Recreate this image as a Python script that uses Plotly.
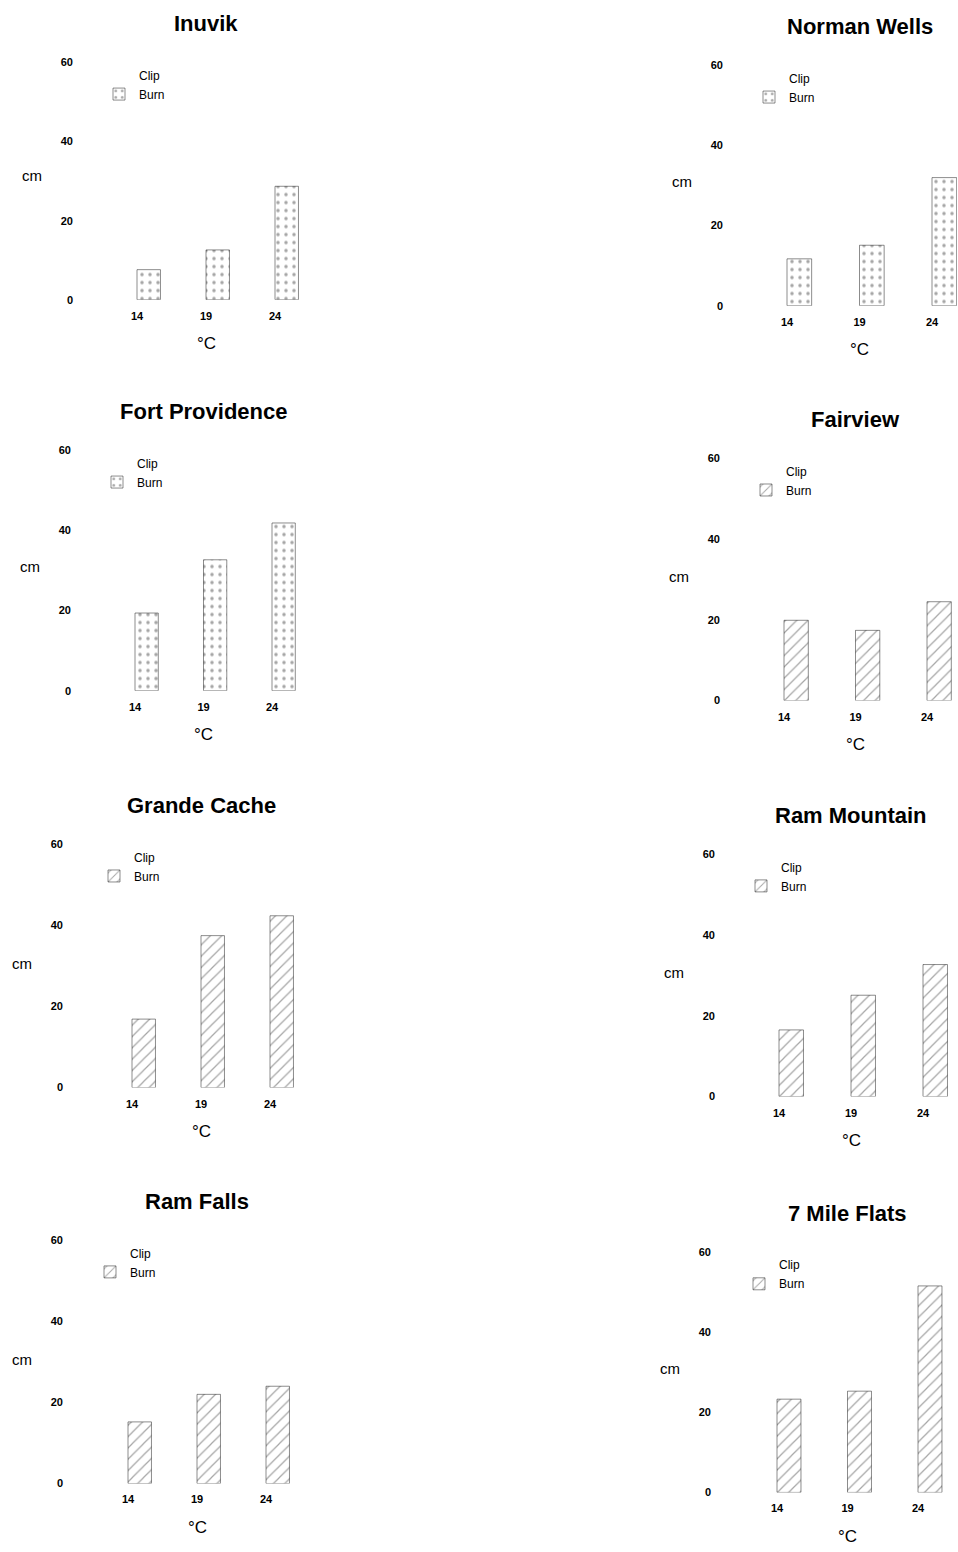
import plotly.graph_objects as go

# ---------------- data ----------------
temps_c = [14, 19, 24]
temp_labels = ["14", "19", "24"]

stations = ["Inuvik", "Norman Wells", "Fort Providence", "Fairview",
            "Grande Cache", "Ram Mountain", "Ram Falls", "7 Mile Flats"]

# Burn-treatment bar heights (cm)
inuvik_burn = [7.6, 12.6, 28.7]
norman_wells_burn = [11.7, 15.1, 32.0]
fort_providence_burn = [19.4, 32.7, 41.9]
fairview_burn = [19.9, 17.4, 24.5]
grande_cache_burn = [16.9, 37.5, 42.4]
ram_mountain_burn = [16.5, 25.1, 32.7]
ram_falls_burn = [15.2, 22.0, 24.0]
seven_mile_flats_burn = [23.3, 25.3, 51.6]

# Clip bars are not legible in the scanned figure (blank)
clip_blank = [None, None, None]

y_ticks = [0, 20, 40, 60]

burn_series = [inuvik_burn, norman_wells_burn, fort_providence_burn, fairview_burn,
               grande_cache_burn, ram_mountain_burn, ram_falls_burn, seven_mile_flats_burn]

# ---------------- layout geometry (pixels) ----------------
W, H = 958, 1552
# x of 14-tick, px per degree, y px of 0, y px of 60, right edge of y tick labels
geom = [
    (137, 13.8, 296, 57, 70),
    (787, 14.5, 302, 60, 720),
    (135, 13.7, 690, 448, 68),
    (784, 14.3, 700, 456, 717),
    (132, 13.8, 1090, 845, 60),
    (779, 14.4, 1099, 855, 712),
    (128, 13.8, 1489, 1244, 60),
    (777, 14.1, 1498, 1256, 708),
]
pattern_shape = [".", ".", ".", "/", "/", "/", "/", "/"]

FONT = "Liberation Sans, Arial, Helvetica, sans-serif"
BAR_W = 1.7


def px_x(p):
    return p / W


def px_y(p):
    return 1 - p / H


fig = go.Figure()
layout = dict(
    width=W, height=H,
    margin=dict(l=0, r=0, t=0, b=0),
    paper_bgcolor="white", plot_bgcolor="white",
    barmode="overlay", font=dict(family=FONT, color="black"),
    showlegend=True,
)
annotations = []

for i, (name, burn, g, shp) in enumerate(zip(stations, burn_series, geom, pattern_shape)):
    k = i + 1
    sfx = "" if k == 1 else str(k)
    x14, ppu, y0, y60, lab_r = g
    left = lab_r + 4
    right = min(957, x14 + 12 * ppu)
    xr = [14 - (x14 - left) / ppu, 14 + (right - x14) / ppu]
    leg = "legend" + sfx

    fig.add_trace(go.Bar(
        x=temps_c, y=clip_blank, name="Clip", width=BAR_W, offset=-BAR_W,
        marker=dict(color="white", line=dict(width=0)),
        xaxis="x" + sfx, yaxis="y" + sfx, legend=leg, hoverinfo="skip",
    ))
    fig.add_trace(go.Bar(
        x=temps_c, y=burn, name="Burn", width=BAR_W, offset=0,
        marker=dict(color="white", line=dict(color="rgba(0,0,0,0.45)", width=1),
                    pattern=dict(shape=shp, fgcolor="rgba(0,0,0,0.7)", size=8,
                                 solidity=0.15)),
        xaxis="x" + sfx, yaxis="y" + sfx, legend=leg,
    ))

    layout["xaxis" + sfx] = dict(
        domain=[px_x(left), px_x(right)], range=xr, anchor="y" + sfx,
        tickvals=temps_c, ticktext=temp_labels, ticks="", showgrid=False,
        zeroline=False, showline=False, ticklabelstandoff=8,
        tickfont=dict(size=11, family=FONT, weight="bold"),
    )
    layout["yaxis" + sfx] = dict(
        domain=[px_y(y0), px_y(y60)], range=[0, 60], anchor="x" + sfx,
        tickvals=y_ticks, ticks="", showgrid=False, zeroline=False, showline=False,
        tickfont=dict(size=11, family=FONT, weight="bold"),
    )
    layout[leg] = dict(
        x=px_x(x14 + 4 - 42), xanchor="left", y=px_y(y60 - 2), yanchor="top",
        bgcolor="rgba(0,0,0,0)", font=dict(size=12, family=FONT),
        traceorder="normal", itemclick=False,
    )
    annotations.append(dict(text="<b>%s</b>" % name, x=19, xref="x" + sfx,
                            y=px_y(y60 - 39), yref="paper", showarrow=False,
                            font=dict(size=22, family=FONT), xanchor="center",
                            yanchor="middle"))
    annotations.append(dict(text="°C", x=19, xref="x" + sfx,
                            y=px_y(y0 + 44), yref="paper", showarrow=False,
                            font=dict(size=17, family=FONT), xanchor="center",
                            yanchor="middle"))
    annotations.append(dict(text="cm", x=px_x(lab_r - 38), xref="paper",
                            y=px_y(y0 - 125), yref="paper", showarrow=False,
                            font=dict(size=15, family=FONT), xanchor="center",
                            yanchor="middle"))

layout["annotations"] = annotations
fig.update_layout(**layout)
fig.write_html("out.html")
